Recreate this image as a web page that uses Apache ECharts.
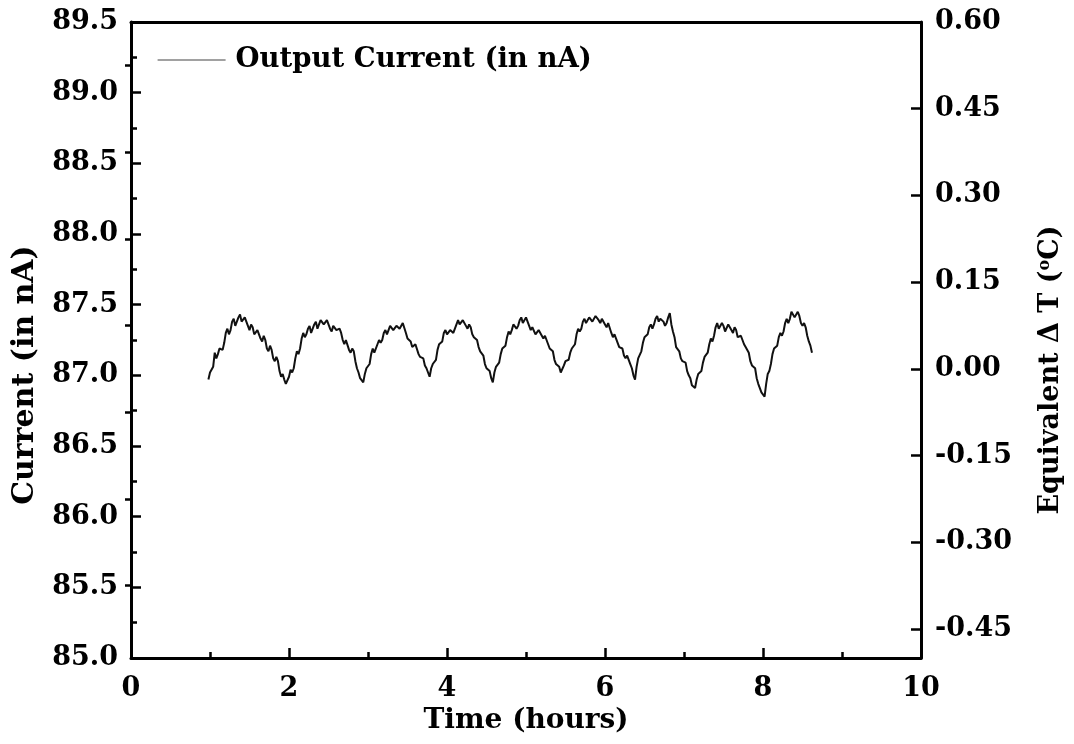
<!DOCTYPE html>
<html>
<head>
<meta charset="utf-8">
<title>Output Current vs Time</title>
<script src="https://cdn.jsdelivr.net/npm/echarts@6/dist/echarts.min.js"></script>
<style>
  html, body { margin: 0; padding: 0; background: #fff; }
  #chart { width: 1074px; height: 744px; }
</style>
</head>
<body>
<div id="chart"></div>
<script>
// Sampling of the logged current: first sample time and spacing (hours)
const timeStartH = 0.98;
const timeStepH = 0.02;

// Output current readings (nA), one per sample
const currentNA = [
  86.97, 87.02, 87.03, 87.06, 87.16, 87.12, 87.15, 87.19, 87.20, 87.18,
  87.23, 87.30, 87.33, 87.29, 87.32, 87.38, 87.40, 87.35, 87.36, 87.41,
  87.43, 87.38, 87.37, 87.41, 87.40, 87.35, 87.32, 87.36, 87.34, 87.29,
  87.28, 87.32, 87.31, 87.26, 87.24, 87.28, 87.25, 87.19, 87.17, 87.21,
  87.18, 87.12, 87.10, 87.13, 87.10, 87.03, 86.99, 87.01, 86.97, 86.94,
  86.93, 86.99, 87.04, 87.02, 87.05, 87.12, 87.17, 87.15, 87.19, 87.26,
  87.30, 87.27, 87.29, 87.33, 87.35, 87.30, 87.31, 87.36, 87.38, 87.33,
  87.34, 87.39, 87.40, 87.36, 87.35, 87.39, 87.38, 87.33, 87.31, 87.35,
  87.36, 87.32, 87.31, 87.33, 87.30, 87.25, 87.22, 87.25, 87.24, 87.18,
  87.16, 87.19, 87.17, 87.10, 87.05, 87.02, 86.98, 86.99, 86.95, 87.01,
  87.05, 87.05, 87.08, 87.15, 87.19, 87.16, 87.17, 87.22, 87.25, 87.23,
  87.25, 87.30, 87.32, 87.29, 87.30, 87.35, 87.36, 87.32, 87.31, 87.35,
  87.36, 87.33, 87.34, 87.37, 87.37, 87.30, 87.26, 87.27, 87.24, 87.20,
  87.19, 87.22, 87.21, 87.15, 87.13, 87.14, 87.12, 87.07, 87.05, 87.04,
  86.99, 87.05, 87.08, 87.08, 87.11, 87.18, 87.22, 87.21, 87.24, 87.30,
  87.32, 87.29, 87.28, 87.32, 87.33, 87.30, 87.31, 87.36, 87.39, 87.36,
  87.36, 87.39, 87.40, 87.35, 87.33, 87.36, 87.34, 87.29, 87.27, 87.28,
  87.25, 87.20, 87.17, 87.17, 87.14, 87.08, 87.05, 87.06, 87.03, 86.98,
  86.95, 87.02, 87.06, 87.06, 87.09, 87.15, 87.19, 87.18, 87.21, 87.27,
  87.31, 87.29, 87.32, 87.36, 87.37, 87.33, 87.35, 87.39, 87.41, 87.37,
  87.38, 87.41, 87.40, 87.35, 87.32, 87.34, 87.33, 87.29, 87.29, 87.32,
  87.33, 87.28, 87.26, 87.28, 87.27, 87.22, 87.19, 87.19, 87.17, 87.11,
  87.08, 87.08, 87.06, 87.02, 87.01, 87.07, 87.10, 87.09, 87.11, 87.16,
  87.19, 87.19, 87.22, 87.29, 87.33, 87.31, 87.33, 87.38, 87.40, 87.37,
  87.38, 87.41, 87.42, 87.38, 87.39, 87.42, 87.43, 87.39, 87.37, 87.40,
  87.41, 87.36, 87.34, 87.37, 87.36, 87.30, 87.27, 87.29, 87.28, 87.23,
  87.20, 87.21, 87.19, 87.14, 87.12, 87.14, 87.13, 87.08, 87.05, 87.00,
  86.97, 87.06, 87.12, 87.13, 87.17, 87.23, 87.27, 87.26, 87.29, 87.34,
  87.36, 87.33, 87.36, 87.40, 87.42, 87.38, 87.40, 87.41, 87.38, 87.35,
  87.37, 87.41, 87.44, 87.36, 87.31, 87.27, 87.20, 87.20, 87.17, 87.12,
  87.10, 87.11, 87.09, 87.03, 87.00, 86.98, 86.93, 86.94, 86.91, 86.97,
  87.01, 87.00, 87.03, 87.09, 87.13, 87.12, 87.16, 87.22, 87.26, 87.24,
  87.28, 87.34, 87.37, 87.33, 87.33, 87.37, 87.35, 87.31, 87.32, 87.36,
  87.37, 87.32, 87.30, 87.34, 87.32, 87.27, 87.26, 87.28, 87.27, 87.22,
  87.20, 87.20, 87.16, 87.10, 87.07, 87.08, 87.05, 86.98, 86.94, 86.93,
  86.88, 86.89, 86.85, 86.94, 87.01, 87.03, 87.08, 87.15, 87.19, 87.18,
  87.21, 87.27, 87.30, 87.28, 87.31, 87.37, 87.40, 87.37, 87.40, 87.45,
  87.46, 87.41, 87.42, 87.45, 87.42, 87.37, 87.35, 87.37, 87.34, 87.28,
  87.24, 87.21, 87.16
];

// Right-hand scale: equivalent temperature change (°C)
const deltaTMin = -0.5;
const deltaTMax = 0.6;
const deltaTLabels = [-0.45, -0.30, -0.15, 0.00, 0.15, 0.30, 0.45, 0.60];
const deltaTMinorTicks = [-0.375, -0.225, -0.075, 0.075, 0.225, 0.375, 0.525];

const FONT = 'DejaVu Serif';
const INK = '#000';
const SERIES_NAME = 'Output Current (in nA)';

const seriesData = currentNA.map((v, i) => [
  +(timeStartH + i * timeStepH).toFixed(2), v
]);

const chart = echarts.init(document.getElementById('chart'), null, { renderer: 'canvas' });

const boldText = (size) => ({
  fontFamily: FONT, fontWeight: 'bold', fontSize: size, color: INK
});

chart.setOption({
  animation: false,
  backgroundColor: '#fff',
  grid: { left: 131, right: 153, top: 22, bottom: 86, containLabel: false },
  legend: {
    show: true,
    orient: 'horizontal',
    left: 152,
    top: 41,
    padding: 5,
    itemWidth: 68,
    itemHeight: 14,
    itemGap: 10,
    data: [SERIES_NAME],
    lineStyle: { width: 1.2, color: '#444' },
    itemStyle: { opacity: 0 },
    textStyle: Object.assign(boldText(27.5), { padding: [0, 0, 0, 5] })
  },
  xAxis: [
    {
      type: 'value',
      position: 'bottom',
      min: 0, max: 10, interval: 2,
      name: 'Time (hours)',
      nameLocation: 'middle',
      nameGap: 48,
      nameTextStyle: boldText(28),
      axisLine: { show: true, onZero: false, lineStyle: { color: INK, width: 3 } },
      axisTick: { show: true, inside: true, length: 10, lineStyle: { color: INK, width: 2.5 } },
      minorTick: { show: true, splitNumber: 2, length: 6, lineStyle: { color: INK, width: 2.5 } },
      axisLabel: Object.assign(boldText(27), { margin: 17 }),
      splitLine: { show: false }
    },
    {
      type: 'value',
      position: 'top',
      min: 0, max: 10,
      axisLine: { show: true, onZero: false, lineStyle: { color: INK, width: 3 } },
      axisTick: { show: false },
      axisLabel: { show: false },
      splitLine: { show: false }
    }
  ],
  yAxis: [
    {
      type: 'value',
      position: 'left',
      min: 85, max: 89.5, interval: 0.5,
      name: 'Current (in nA)',
      nameLocation: 'middle',
      nameRotate: 90,
      nameGap: 91,
      nameTextStyle: Object.assign(boldText(30), { padding: [0, 70, 0, 0] }),
      axisLine: { show: true, onZero: false, lineStyle: { color: INK, width: 3 } },
      axisTick: { show: true, inside: true, length: 10, lineStyle: { color: INK, width: 2.5 } },
      minorTick: { show: true, splitNumber: 2, length: 6, lineStyle: { color: INK, width: 2.5 } },
      axisLabel: Object.assign(boldText(27), {
        margin: 13,
        formatter: (v) => v.toFixed(1)
      }),
      splitLine: { show: false }
    },
    {
      type: 'value',
      position: 'right',
      min: deltaTMin, max: deltaTMax,
      name: 'Equivalent \u0394 T ({sup|o}C)',
      nameLocation: 'middle',
      nameRotate: 90,
      nameGap: 116,
      nameTextStyle: Object.assign(boldText(27), {
        padding: [0, 60, 0, 0],
        rich: {
          sup: { fontFamily: FONT, fontWeight: 'bold', fontSize: 16, color: INK, verticalAlign: 'top', padding: [0, 0, 12, 0] }
        }
      }),
      axisLine: { show: true, onZero: false, lineStyle: { color: INK, width: 3 } },
      axisTick: {
        show: true, inside: true, length: 10,
        customValues: deltaTLabels,
        lineStyle: { color: INK, width: 2.5 }
      },
      axisLabel: Object.assign(boldText(27), {
        margin: 14,
        customValues: deltaTLabels,
        formatter: (v) => (Math.abs(v) < 1e-9 ? 0 : v).toFixed(2)
      }),
      splitLine: { show: false }
    },
    {
      type: 'value',
      position: 'right',
      min: deltaTMin, max: deltaTMax,
      axisLine: { show: false },
      axisTick: {
        show: true, inside: true, length: 6,
        customValues: deltaTMinorTicks,
        lineStyle: { color: INK, width: 2.5 }
      },
      axisLabel: { show: false },
      splitLine: { show: false }
    }
  ],
  series: [
    {
      name: SERIES_NAME,
      type: 'line',
      xAxisIndex: 0,
      yAxisIndex: 0,
      data: seriesData,
      symbol: 'none',
      smooth: false,
      lineStyle: { color: '#111', width: 2 },
      itemStyle: { color: '#111' }
    }
  ]
});
</script>
</body>
</html>
